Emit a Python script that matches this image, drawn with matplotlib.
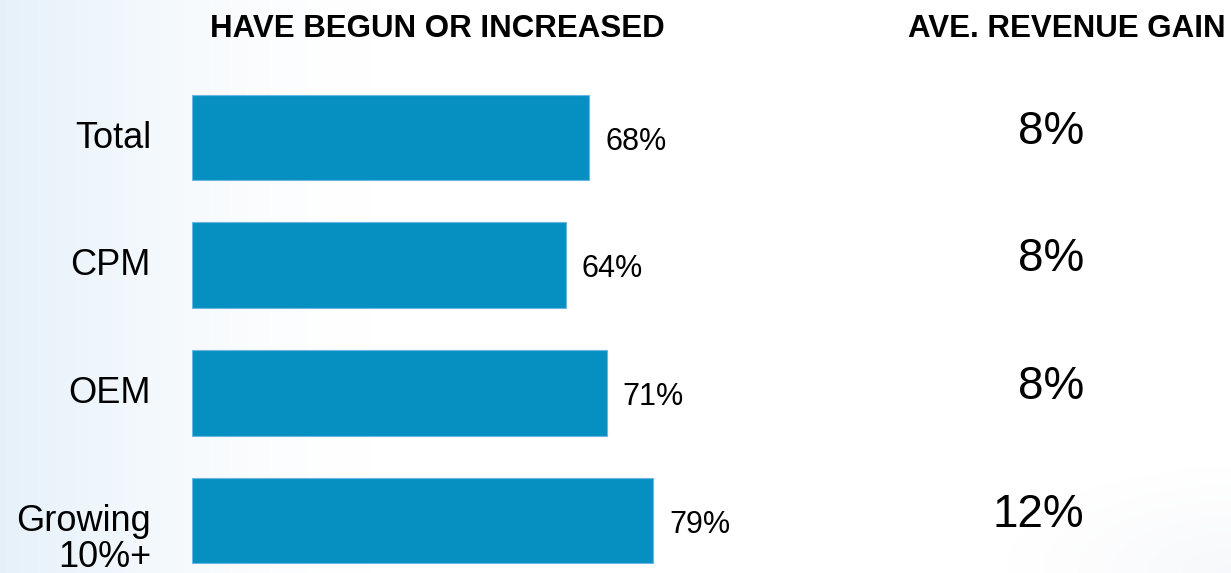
import numpy as np
import matplotlib.pyplot as plt
import matplotlib.transforms as mtransforms

plt.rcParams['font.family'] = ['Liberation Sans', 'DejaVu Sans']

categories = ['Total', 'CPM', 'OEM', 'Growing\n10%+']
begun_increased = [68, 64, 71, 79]
revenue_gain = ['8%', '8%', '8%', '12%']

W, H = 1231, 573
fig = plt.figure(figsize=(W / 100, H / 100), dpi=100)

# background: light blue fading in from the left, faint grey in the bottom right corner
bg = fig.add_axes([0, 0, 1, 1], zorder=-10)
xx, yy = np.meshgrid(np.linspace(0, 1, 400), np.linspace(0, 1, 200))
blue = np.clip(1 - xx / 0.3, 0, 1) ** 1.5
grey = np.clip(1 - np.hypot(1 - xx, 1 - yy) / 0.18, 0, 1)
img = np.ones((200, 400, 3))
img[..., 0] -= blue * 0.10 + grey * 0.03
img[..., 1] -= blue * 0.055 + grey * 0.025
img[..., 2] -= blue * 0.02 + grey * 0.015
bg.imshow(img, aspect='auto', extent=[0, 1, 0, 1], origin='upper')
bg.axis('off')

step = 127.7
top_px = 137.5 - step / 2
ax = fig.add_axes([192 / W, 0, 584 / W, (H - top_px) / H])
ax.patch.set_alpha(0)
ypos = np.arange(len(categories))
ax.barh(ypos, begun_increased, height=0.67, color='#068fc1', edgecolor='#6cb6e2', linewidth=0.8)
ax.set_xlim(0, 100)
ax.set_ylim(-0.5 + (H - top_px) / step, -0.5)
ax.set_xticks([])
ax.set_yticks([])
for s in ax.spines.values():
    s.set_visible(False)

# category names, right aligned left of the bars
for y, c in zip(ypos, categories):
    ax.annotate(c, (0, y), xytext=(-41, 17), textcoords='offset pixels',
                ha='right', va='top', fontsize=26, linespacing=1.05)

for y, v in zip(ypos, begun_increased):
    ax.annotate(f'{v}%', (v, y), xytext=(11.5, -3), textcoords='offset points',
                va='center', ha='left', fontsize=22)

trans = mtransforms.blended_transform_factory(fig.transFigure, ax.transData)
for y, g in zip(ypos, revenue_gain):
    ax.text(1084 / W, y - 0.045, g, transform=trans, ha='right', va='center', fontsize=33)

fig.text(437 / W, 1 - 29 / H, 'HAVE BEGUN OR INCREASED', ha='center', va='center',
         fontsize=22.5, fontweight='bold')
fig.text(1067 / W, 1 - 29 / H, 'AVE. REVENUE GAIN', ha='center', va='center',
         fontsize=22.5, fontweight='bold')

fig.savefig('out.png', dpi=100)
